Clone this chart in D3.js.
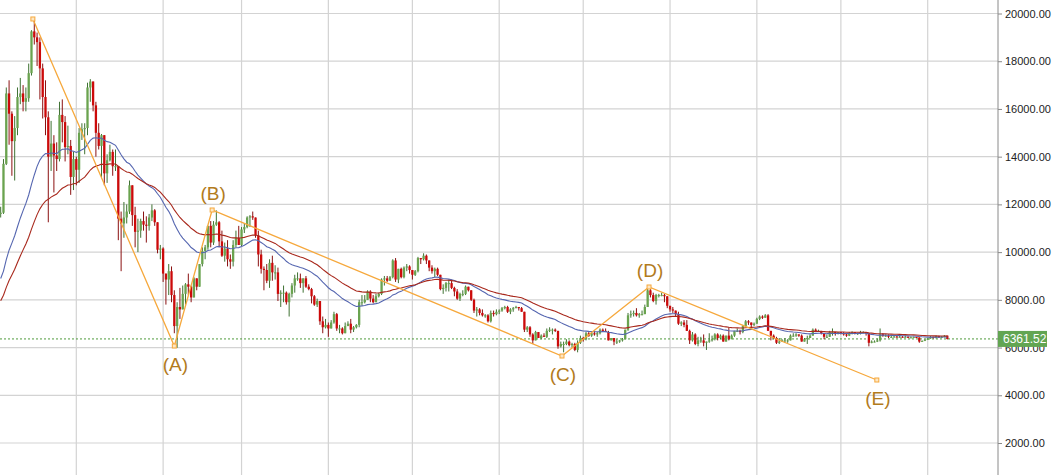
<!DOCTYPE html>
<html><head><meta charset="utf-8">
<script src="https://cdn.jsdelivr.net/npm/d3@7"></script>
<style>html,body{margin:0;padding:0;background:#fff;overflow:hidden}</style>
</head><body><svg id="chart" width="1054" height="475"></svg>
<script>
// ---------- DATA ----------
// daily closes before the visible window (Sep 1 – Dec 4 2017), used only to warm up the moving averages
const preCloses = [4900,4600,4600,4250,4400,4600,4600,4300,4320,4300,4200,4170,3880,3250,3700,3700,3700,4100,3900,3880,3620,3620,3780,3670,3930,3890,4210,4190,4160,4340,
  4400,4400,4310,4220,4320,4370,4430,4610,4770,4780,4820,5430,5640,5820,5690,
  5700,5600,5570,5700,6000,6000,5980,5900,5500,5730,5890,5780,5750,6150,6130,6450,
  6750,7030,7160,7380,7380,6960,7120,7450,7140,6570,6350,5950,6550,6630,7300,7820,7850,7700,8040,8240,8100,8230,8070,8250,8750,9330,9730,9950,9880,9900,
  10860,10900,11250,11600];
// daily rows: [high, low, close]  (open = previous close)
const dec2017 = [[11900,11450,11650],[13900,11600,13700],[16900,13650,16650],[17200,14500,15800],[15900,13200,14650],[15700,13000,15200],[16900,14900,16500],[17300,16200,16650],[17000,15900,16300],[16900,15900,16450],[17900,16300,17500],[19300,17400,19250],[19790,18700,19000],[19200,17800,18800],[19000,16400,17700],[17900,15600,16500],[17200,14900,15650],[15900,11250,14000],[15500,13400,14550],[14900,12500,14050],[14600,13400,13900],[16300,13800,15750],[16400,14600,15450],[15700,13800,14400],[15300,14100,14450],[14700,12400,13150],[14200,12600,13900]];
const jan2018 = [[14000,12800,13450],[15200,12900,15000],[15400,14700,15150],[15400,14100,15200],[17100,14900,16900],[17250,16300,17150],[17150,15900,16150],[16300,14000,15000],[15400,14300,14450],[14950,13100,14900],[14900,12800,13300],[14100,12900,13850],[14500,13800,14200],[14300,13200,13600],[14300,13400,13600],[13600,10500,11400],[11700,9200,11200],[12100,10600,11450],[12000,11200,11700],[13000,11600,12800],[12800,11100,11550],[11900,10200,10850],[11400,10000,10900],[11400,10600,11300],[11700,10900,11150],[11500,10400,11100],[11600,10900,11450],[12000,11300,11750],[11800,11100,11250],[11250,9950,10100],[10300,9700,10150]];
const feb2018 = [[10200,8750,9100],[9100,7800,8850],[9500,8200,9200],[9400,7900,8200],[8400,6600,6900],[7900,5990,7700],[8500,7200,7600],[8600,7600,8250],[8700,7800,8650],[9100,8200,8550],[8600,7900,8100],[8950,8100,8900],[8900,8400,8550],[9500,8550,9500],[10200,9400,10050],[10300,9700,10200],[11100,10100,11100],[11300,10200,10400],[11300,10300,11150],[11750,11100,11250],[11300,10200,10450],[10900,9800,9850],[10400,9600,10150],[10500,9400,9700],[9900,9300,9600],[10500,9400,10300],[10900,10200,10600],[11100,10300,10300]];
const mar2018 = [[11050,10250,10950],[11200,10800,11050],[11500,11000,11450],[11550,11050,11500],[11700,11350,11450],[11450,10600,10700],[10900,9400,9900],[10100,9100,9300],[9400,8400,9250],[9500,8700,8800],[9700,8500,9550],[9850,8800,9150],[9450,8850,9150],[9350,7950,8250],[8400,7700,8300],[8600,7900,8300],[8350,7800,7900],[8300,7300,8250],[8700,8100,8600],[9050,8300,8900],[9150,8800,8900],[9100,8500,8700],[8900,8300,8900],[9000,8500,8550],[8650,8400,8450],[8500,7850,8150],[8200,7750,7800],[8050,7700,7950],[7950,6950,7100],[7300,6600,6850],[7200,6800,6950]];
const apr2018 = [[7050,6450,6800],[7150,6800,7050],[7500,7000,7400],[7450,6700,6800],[6950,6600,6800],[6850,6550,6600],[7050,6600,6900],[7100,6900,7000],[7200,6600,6750],[6900,6650,6850],[6980,6800,6950],[8000,6850,7900],[8200,7750,7900],[8200,7850,8000],[8400,8000,8350],[8400,7900,8050],[8200,7850,7900],[8250,7900,8150],[8300,8100,8250],[8900,8200,8850],[9000,8600,8900],[9000,8750,8800],[9000,8800,8950],[9700,8900,9650],[9750,8750,8850],[9300,8700,9300],[9350,8900,8950],[9400,8900,9350],[9500,9200,9400],[9450,9100,9250]];
const may2018 = [[9250,8850,9050],[9250,9000,9200],[9800,9150,9750],[9750,9500,9700],[9950,9650,9850],[9900,9500,9650],[9650,9200,9350],[9450,9100,9200],[9350,8950,9300],[9350,9000,9050],[9050,8400,8450],[8650,8250,8500],[8750,8350,8700],[8850,8350,8700],[8850,8450,8500],[8550,8150,8350],[8450,8000,8050],[8300,7950,8250],[8400,8150,8250],[8600,8200,8550],[8550,8350,8400],[8400,7950,8000],[8050,7450,7550],[7700,7300,7600],[7650,7350,7450],[7600,7300,7350],[7400,7250,7350],[7400,7050,7100],[7550,7050,7450],[7550,7300,7400],[7600,7350,7500]];
const jun2018 = [[7600,7400,7550],[7700,7500,7650],[7750,7600,7700],[7750,7450,7500],[7650,7400,7600],[7700,7500,7650],[7750,7650,7700],[7700,7550,7650],[7700,7500,7500],[7500,6650,6750],[6900,6650,6850],[6900,6450,6550],[6600,6150,6300],[6700,6300,6650],[6650,6400,6400],[6550,6350,6500],[6600,6450,6450],[6800,6400,6700],[6850,6650,6750],[6800,6550,6750],[6800,6650,6700],[6700,5950,6050],[6250,6000,6150],[6250,5800,6150],[6350,6100,6250],[6300,6050,6100],[6200,6000,6150],[6200,5850,5900],[6300,5800,6200],[6500,6150,6400]];
const jul2018 = [[6450,6250,6350],[6650,6300,6600],[6650,6450,6500],[6650,6450,6600],[6700,6500,6550],[6650,6450,6600],[6800,6550,6750],[6800,6650,6700],[6800,6650,6650],[6700,6300,6300],[6400,6300,6400],[6400,6100,6250],[6350,6150,6250],[6320,6200,6300],[6400,6250,6350],[6750,6350,6750],[7450,6700,7350],[7550,7250,7400],[7550,7300,7450],[7650,7300,7350],[7450,7250,7400],[7550,7350,7400],[7800,7400,7700],[8500,7700,8400],[8500,8100,8200],[8300,7900,7950],[8250,7800,8200],[8250,8100,8200],[8300,8150,8200],[8250,7900,8150],[8150,7650,7750]];
const aug2018 = [[7750,7500,7600],[7700,7450,7550],[7550,7300,7400],[7500,6950,7000],[7100,6900,7050],[7150,6850,6950],[7150,6700,6700],[6750,6150,6300],[6650,6250,6550],[6600,6100,6150],[6450,6050,6300],[6450,6200,6300],[6550,6050,6200],[6250,5900,6250],[6600,6200,6300],[6500,6250,6350],[6600,6300,6550],[6600,6300,6400],[6550,6350,6500],[6550,6250,6250],[6500,6250,6500],[6850,6300,6350],[6550,6350,6500],[6700,6450,6700],[6800,6650,6700],[6750,6550,6650],[6950,6600,6900],[7150,6900,7100],[7150,6950,7050],[7050,6850,6950],[7050,6900,7000]];
const sep2018 = [[7250,7000,7200],[7350,7150,7300],[7350,7200,7250],[7400,7250,7350],[7400,6700,6700],[6700,6300,6500],[6550,6350,6400],[6450,6150,6200],[6400,6150,6250],[6350,6250,6300],[6400,6200,6300],[6350,6200,6300],[6550,6300,6500],[6600,6450,6500],[6600,6450,6550],[6550,6450,6500],[6550,6250,6250],[6400,6250,6350],[6500,6150,6400],[6550,6400,6500],[6800,6500,6750],[6800,6650,6700],[6750,6650,6700],[6700,6550,6600],[6600,6350,6450],[6550,6400,6450],[6700,6450,6650],[6800,6500,6650],[6650,6500,6600],[6650,6550,6650]];
const oct2018 = [[6650,6550,6600],[6650,6500,6550],[6600,6450,6500],[6650,6480,6600],[6680,6550,6650],[6650,6550,6600],[6620,6530,6600],[6700,6550,6650],[6680,6600,6650],[6650,6500,6600],[6600,6050,6200],[6300,6180,6250],[6300,6220,6250],[6380,6230,6300],[6800,6250,6550],[6600,6450,6500],[6550,6450,6500],[6550,6400,6450],[6500,6400,6450],[6500,6420,6460],[6500,6420,6450],[6500,6420,6450],[6480,6420,6440],[6500,6420,6450],[6470,6400,6420],[6460,6390,6430],[6460,6400,6440],[6450,6400,6420],[6430,6200,6250],[6300,6240,6280],[6350,6270,6330]];
const nov2018 = [[6400,6320,6380],[6480,6370,6440],[6450,6380,6400],[6500,6380,6480],[6500,6400,6430],[6480,6400,6450],[6520,6430,6500],[6500,6340,6361.52]];
const monthStarts = ["2017-12-05","2018-01-01","2018-02-01","2018-03-01","2018-04-01","2018-05-01","2018-06-01","2018-07-01","2018-08-01","2018-09-01","2018-10-01","2018-11-01"];
const monthRows = [dec2017,jan2018,feb2018,mar2018,apr2018,may2018,jun2018,jul2018,aug2018,sep2018,oct2018,nov2018];

// exponential moving averages (periods): blue, red
const emaPeriods = [30, 50];
const priceTicks = [2000,4000,6000,8000,10000,12000,14000,16000,18000,20000];

// wave drawn on the chart
const waveTimes  = ["2017-12-16T12:00:00Z","2018-02-05T00:00:00Z","2018-02-18T12:00:00Z","2018-06-23T10:00:00Z","2018-07-24T12:00:00Z","2018-10-13T20:00:00Z"];
const wavePrices = [19770, 6065, 11765, 5646, 8538, 4640];
const waveLabels = ["", "(A)", "(B)", "(C)", "(D)", "(E)"];
const waveLabelSide = ["", "below", "above", "below", "above", "below"];

const lastPrice = 6361.52;

// ---------- BUILD ----------
const candles = [];
let prev = preCloses[preCloses.length - 1];
monthRows.forEach((rows, m) => {
  const d0 = new Date(monthStarts[m] + "T00:00:00Z");
  rows.forEach((r, i) => {
    candles.push({date: d3.utcDay.offset(d0, i), o: prev, h: r[0], l: r[1], c: r[2]});
    prev = r[2];
  });
});
const allCloses = preCloses.concat(candles.map(d => d.c));
const maSeries = emaPeriods.map(n => {
  const a = 2 / (n + 1);
  let e = allCloses[0];
  const out = [];
  allCloses.forEach((c, j) => {
    e = j === 0 ? c : e + a * (c - e);
    const i = j - preCloses.length;
    if (i >= 0) out.push({date: candles[i].date, v: e});
  });
  return out;
});

// ---------- DRAW ----------
const W = 1054, H = 475, axisX = 998;
const font = "'Liberation Sans', Arial, sans-serif";
const svg = d3.select("#chart");
const x = d3.scaleUtc().domain([new Date("2018-01-01T00:00:00Z"), new Date("2018-11-01T00:00:00Z")]).range([76.3, 927.7]);
const y = d3.scaleLinear().domain([2000, 20000]).range([443, 13.5]);

svg.append("rect").attr("width", W).attr("height", H).attr("fill", "#fff");
svg.append("defs").append("clipPath").attr("id", "plot")
  .append("rect").attr("x", 0).attr("y", 0).attr("width", axisX).attr("height", H);

const grid = svg.append("g").attr("stroke", "#d3d3d3").attr("stroke-width", 1.2);
grid.selectAll("line.h").data(priceTicks).join("line").attr("class", "h")
  .attr("x1", 0).attr("x2", axisX).attr("y1", d => y(d)).attr("y2", d => y(d));
grid.selectAll("line.v").data(x.ticks(d3.utcMonth.every(1))).join("line").attr("class", "v")
  .attr("x1", d => x(d)).attr("x2", d => x(d)).attr("y1", 0).attr("y2", H);

const plot = svg.append("g").attr("clip-path", "url(#plot)");

// last price dotted line
plot.append("line").attr("x1", 0).attr("x2", axisX).attr("y1", y(lastPrice)).attr("y2", y(lastPrice))
  .attr("stroke", "#4e9a3c").attr("stroke-width", 1).attr("stroke-dasharray", "2,2");

// candles
const bw = 2.3;
const cg = plot.append("g");
cg.selectAll("line").data(candles).join("line")
  .attr("x1", d => x(d.date)).attr("x2", d => x(d.date))
  .attr("y1", d => y(Math.max(d.h, d.o, d.c))).attr("y2", d => y(Math.min(d.l, d.o, d.c)))
  .attr("stroke", d => d.c >= d.o ? "#3f7233" : "#8a1010").attr("stroke-width", 1);
cg.selectAll("rect").data(candles).join("rect")
  .attr("x", d => x(d.date) - bw / 2).attr("width", bw)
  .attr("y", d => y(Math.max(d.o, d.c)))
  .attr("height", d => Math.max(1, y(Math.min(d.o, d.c)) - y(Math.max(d.o, d.c))))
  .attr("fill", d => d.c >= d.o ? "#6aa34f" : "#cc0a0a");

// moving averages
const maColors = ["#5566b0", "#a8281c"];
const line = d3.line().x(d => x(d.date)).y(d => y(d.v));
maSeries.forEach((s, k) => {
  plot.append("path").datum(s).attr("d", line).attr("fill", "none")
    .attr("stroke", maColors[k]).attr("stroke-width", 1.1);
});

// wave lines
const wave = waveTimes.map((t, i) => ({date: new Date(t), p: wavePrices[i], label: waveLabels[i], side: waveLabelSide[i]}));
plot.append("path").datum(wave)
  .attr("d", d3.line().x(d => x(d.date)).y(d => y(d.p)))
  .attr("fill", "none").attr("stroke", "#f6a83c").attr("stroke-width", 1.3);
plot.selectAll("rect.m").data(wave).join("rect").attr("class", "m")
  .attr("x", d => x(d.date) - 2).attr("y", d => y(d.p) - 2).attr("width", 4).attr("height", 4)
  .attr("fill", "#fde7c4").attr("stroke", "#f6a83c").attr("stroke-width", 1);
svg.selectAll("text.w").data(wave.filter(d => d.label)).join("text").attr("class", "w")
  .attr("x", d => x(d.date) + 1).attr("y", d => y(d.p) + (d.side === "below" ? 25 : -10))
  .attr("text-anchor", "middle").attr("font-family", font)
  .attr("font-size", 19).attr("fill", "#b27b1c").text(d => d.label);

// right axis
svg.append("line").attr("x1", axisX).attr("x2", axisX).attr("y1", 0).attr("y2", H)
  .attr("stroke", "#8a8a8a").attr("stroke-width", 1);
const ax = svg.append("g").attr("transform", `translate(${axisX},0)`)
  .call(d3.axisRight(y).tickValues(priceTicks).tickFormat(d3.format(".2f")).tickSize(4).tickPadding(3));
ax.select(".domain").remove();
ax.selectAll(".tick line").attr("stroke", "#8a8a8a");
ax.selectAll(".tick text").attr("font-family", font).attr("font-size", 11).attr("fill", "#222");

// last price tag
svg.append("rect").attr("x", axisX).attr("y", y(lastPrice) - 8).attr("width", 49).attr("height", 16).attr("fill", "#62a552");
svg.append("text").attr("x", axisX + 5).attr("y", y(lastPrice) + 4.5)
  .attr("font-family", font).attr("font-size", 12).attr("fill", "#fff")
  .text(d3.format(".2f")(lastPrice));
</script>
</body></html>
